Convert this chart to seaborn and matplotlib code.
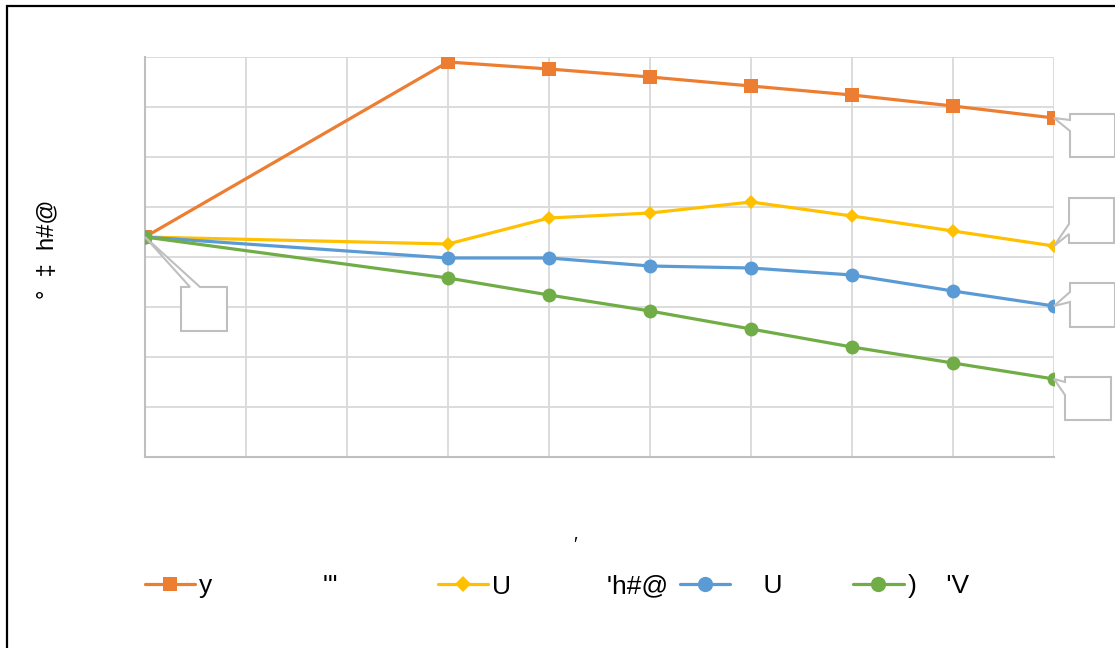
import numpy as np
import pandas as pd
import matplotlib
matplotlib.use("Agg")
import matplotlib.pyplot as plt
import matplotlib.transforms as mtransforms
from matplotlib.patches import Polygon, Rectangle
import seaborn as sns

# ---- data -------------------------------------------------------------
x_pos = list(range(10))
series_names = [
    "y" + " " * 15 + "'\"" + " " * 12,
    "U" + " " * 13 + "'h#@",
    "    U" + " " * 8,
    ")    'V",
]
orange_vals = [4.40, np.nan, np.nan, 7.90, 7.76, 7.60, 7.42, 7.24, 7.02, 6.78]
yellow_vals = [4.40, np.nan, np.nan, 4.26, 4.78, 4.88, 5.10, 4.82, 4.52, 4.22]
blue_vals = [4.40, np.nan, np.nan, 3.98, 3.98, 3.82, 3.78, 3.64, 3.32, 3.02]
green_vals = [4.40, np.nan, np.nan, 3.58, 3.24, 2.92, 2.56, 2.20, 1.88, 1.56]
y_label = "°  ‡  h#@"
x_label = "′"

# ---- styling ----------------------------------------------------------
colors = ["#ED7D31", "#FFC000", "#5B9BD5", "#70AD47"]
markers = ["s", "D", "o", "o"]
marker_sizes = [9.5, 7.0, 10.0, 10.0]

sns.set_theme(style="white")
plt.rcParams["font.family"] = ["Liberation Sans", "DejaVu Sans"]

W, H, DPI = 1115, 648, 100
fig = plt.figure(figsize=(W / DPI, H / DPI), dpi=DPI)
fig.patch.set_facecolor("white")
ax = fig.add_axes([145 / W, 1 - 457 / H, (1054 - 145) / W, (457 - 57) / H])

rows = []
for name, vals in zip(series_names, [orange_vals, yellow_vals, blue_vals, green_vals]):
    for xv, v in zip(x_pos, vals):
        rows.append({"x": xv, "value": v, "series": name})
df = pd.DataFrame(rows).dropna()

for name, c, m, ms in zip(series_names, colors, markers, marker_sizes):
    sub = df[df["series"] == name]
    sns.lineplot(data=sub, x="x", y="value", ax=ax, color=c, marker=m,
                 markersize=ms, markeredgewidth=0, linewidth=2.3,
                 label=name, zorder=3)

ax.set_xlim(0, 9)
ax.set_ylim(0, 8)
ax.set_xticks(x_pos)
ax.set_yticks(range(9))
ax.set_xticklabels([])
ax.set_yticklabels([])
ax.grid(True, color="#d9d9d9", linewidth=1.3)
ax.tick_params(axis="both", direction="in", length=5, color="#bfbfbf", width=1.3)
for side in ["top", "right"]:
    ax.spines[side].set_visible(False)
for side in ["left", "bottom"]:
    ax.spines[side].set_color("#bfbfbf")
    ax.spines[side].set_linewidth(1.5)

ax.set_ylabel(y_label, fontsize=17, color="#000000", ha="center", va="center")
ax.yaxis.set_label_coords((47 - 145) / (1054 - 145), (457 - 249) / 400)
ax.set_xlabel(x_label, fontsize=14, color="#000000")
ax.xaxis.set_label_coords((575 - 145) / (1054 - 145), (457 - 537) / 400)

# ---- empty data-label callouts (pixel offsets from the anchored point) --
def callout(x, y, verts):
    tr = mtransforms.Affine2D().scale(DPI / 100) + \
        mtransforms.ScaledTranslation(x, y, ax.transData)
    pts = [(dx, -dy) for dx, dy in verts]
    ax.add_patch(Polygon(pts, closed=True, transform=tr, facecolor="white",
                         edgecolor="#bfbfbf", linewidth=1.5, clip_on=False,
                         zorder=5))

callout(x_pos[0], orange_vals[0],
        [(0, 0), (45, 50), (36, 50), (36, 94), (82, 94), (82, 50), (55, 50)])
callout(x_pos[-1], orange_vals[-1],
        [(0, 0), (16, 2), (16, -4), (61, -4), (61, 39), (16, 39), (16, 13)])
callout(x_pos[-1], yellow_vals[-1],
        [(0, 0), (15, -12), (15, -3), (60, -3), (60, -48), (15, -48), (15, -22)])
callout(x_pos[-1], blue_vals[-1],
        [(0, 0), (16, -4), (16, 21), (61, 21), (61, -23), (16, -23), (16, -14)])
callout(x_pos[-1], green_vals[-1],
        [(0, 0), (11, 3), (11, -2), (57, -2), (57, 41), (11, 41), (11, 16)])

# ---- legend -------------------------------------------------------------
leg = ax.legend(loc="center left", bbox_to_anchor=(145 / W, 1 - 586 / H),
                bbox_transform=fig.transFigure, ncol=4, frameon=False,
                fontsize=19, handlelength=1.9, handletextpad=0.15,
                columnspacing=0.45, borderpad=0, borderaxespad=0,
                markerscale=1.1)
for t in leg.get_texts():
    t.set_color("#000000")

# ---- chart frame ----------------------------------------------------------
fig.patches.append(Rectangle((6.5 / W, -0.05), 1.2, 1.05 - 6.5 / H,
                             transform=fig.transFigure, fill=False,
                             edgecolor="black", linewidth=1.6))

fig.savefig("out.png", dpi=DPI, facecolor="white")
